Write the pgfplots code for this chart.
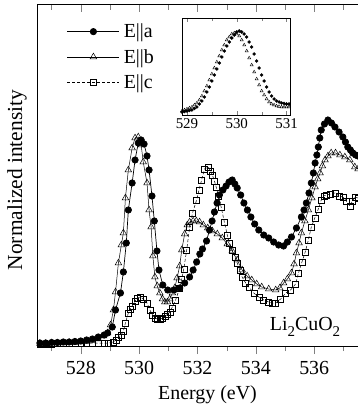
\documentclass[border=0pt]{standalone}
\usepackage{fontspec}
\setmainfont{Liberation Serif}
\usepackage{pgfplots}
\pgfplotsset{compat=1.18}
\newcommand{\sub}[1]{\raisebox{-6bp}{\fontsize{15}{16}\selectfont #1}}
\begin{document}
\begin{tikzpicture}
\begin{axis}[name=main, scale only axis, width=321bp, height=342bp,
  xmin=526.5, xmax=537.5, ymin=0, ymax=342,
  xtick={528,530,532,534,536}, minor xtick={527,529,531,533,535,537},
  ytick=\empty, xtick pos=bottom, tick align=outside,
  major tick length=8bp, minor tick length=5bp,
  /pgf/number format/assume math mode=true, /pgf/number format/1000 sep={},
  ticklabel style={font=\fontsize{20}{24}\selectfont},
  xticklabel style={yshift=-4bp},
  xlabel={Energy (eV)}, ylabel={Normalized intensity},
  xlabel style={font=\fontsize{20}{24}\selectfont, at={(axis description cs:0.531,-0.143)}, anchor=center},
  ylabel style={font=\fontsize{21.5}{24}\selectfont, at={(axis description cs:-0.0623,0.485)}, anchor=center},
  legend style={draw=none, fill=none, at={(axis description cs:0.093,0.948)}, anchor=north west,
    font=\fontsize{20}{22}\selectfont, row sep=6bp, inner sep=0pt,
    nodes={inner xsep=4bp}},
  legend cell align=left,
  legend image code/.code={\draw[mark repeat=2,mark phase=2] plot coordinates {(0bp,0bp) (26bp,0bp) (52bp,0bp)};},
]
\addplot[black, line width=0.7bp, mark=*, mark size=3.2bp, mark options={solid, fill=black}] coordinates {
(526.6,3)(526.8,3)(527.0,3.5)(527.2,3.5)(527.4,4)(527.6,4)(527.8,4.5)(528.0,5)(528.2,6)(528.4,7)(528.6,9)(528.8,11)
(528.92,13)(529.08,19)(529.19,36)(529.36,53)(529.46,74)(529.56,103)(529.63,136)(529.76,163)(529.86,186)(529.97,203)
(530.07,206)(530.17,202)(530.27,190)(530.34,176)(530.44,150)(530.52,125)(530.61,95)(530.68,76)(530.81,61)(530.98,56)
(531.19,56)(531.39,58)(531.56,63)(531.73,69)(531.85,76)(531.97,84)(532.08,92)(532.17,97)(532.31,105)(532.41,116)
(532.5,125)(532.58,134)(532.67,143)(532.75,151)(532.87,156)(532.98,160)(533.08,164)(533.19,166)(533.28,162)(533.36,158)
(533.48,151)(533.59,143)(533.71,136)(533.83,129)(533.96,122)(534.10,116)(534.27,111)(534.44,108)(534.61,104)(534.78,101)
(534.95,100)(535.08,104)(535.22,109)(535.39,118)(535.56,129)(535.65,136)(535.73,143)(535.82,153)(535.90,163)(535.97,173)
(536.03,183)(536.09,191)(536.14,199)(536.19,208)(536.24,216)(536.35,222)(536.47,226)(536.59,223)(536.71,219)(536.85,214)
(536.98,209)(537.07,204)(537.15,199)(537.24,196)(537.32,193)(537.42,191)(537.5,190)};
\addlegendentry{E||a}
\addplot[black, line width=0.5bp, mark=triangle, mark size=3.8bp, mark options={solid, fill=white}] coordinates {
(526.6,2.5)(526.8,2.5)(527.0,3)(527.2,3)(527.4,3)(527.6,3.5)(527.8,3.5)(528.0,4)(528.2,4.5)(528.4,5.5)(528.6,7)(528.78,10)
(528.92,13)(529.02,21)(529.12,36)(529.19,54)(529.29,83)(529.39,101)(529.46,113)(529.53,148)(529.63,176)(529.76,198)
(529.86,208)(529.97,209)(530.07,201)(530.14,184)(530.27,163)(530.34,136)(530.41,119)(530.47,90)(530.54,69)(530.62,60)
(530.71,53)(530.8,47)(530.88,44)(530.97,44)(531.05,47)(531.14,53)(531.22,58)(531.3,68)(531.39,80)(531.46,96)(531.56,112)
(531.65,121)(531.73,124)(531.85,125)(531.96,125)(532.07,124)(532.2,121)(532.35,118)(532.51,115)(532.68,112)(532.85,108)
(533.02,102)(533.19,95)(533.36,86)(533.53,76)(533.7,70)(533.86,66)(534.03,62)(534.2,59)(534.44,57)(534.68,56)(534.82,58)
(534.95,63)(535.08,67)(535.22,73)(535.31,82)(535.39,93)(535.48,103)(535.56,113)(535.68,125)(535.80,136)(535.92,148)
(536.03,159)(536.12,167)(536.20,173)(536.28,180)(536.37,186)(536.47,190)(536.58,193)(536.73,193)(536.88,191)(537.05,189)
(537.22,186)(537.39,179)(537.5,177)};
\addlegendentry{E||b}
\addplot[black, line width=0.5bp, densely dashed, mark=square, mark size=3bp, mark options={solid, fill=white}] coordinates {
(526.6,2)(526.8,2)(527.0,2)(527.2,2.5)(527.4,2.5)(527.6,2.5)(527.8,2.5)(528.0,3)(528.2,3)(528.4,3)(528.6,3)(528.8,3)
(528.95,3)(529.12,4)(529.2,6)(529.29,9)(529.38,11)(529.46,15)(529.53,23)(529.63,33)(529.7,37)(529.76,40)(529.86,45)
(529.95,48)(530.03,49)(530.15,47)(530.27,43)(530.37,36)(530.46,31)(530.54,28)(530.62,27)(530.71,27)(530.8,28)(530.9,30)
(530.98,32)(531.05,34)(531.12,38)(531.25,46)(531.39,58)(531.46,67)(531.53,77)(531.63,96)(531.73,119)(531.83,133)
(531.97,146)(532.05,156)(532.14,166)(532.24,177)(532.37,179)(532.45,175)(532.51,171)(532.58,165)(532.64,159)(532.72,150)
(532.81,139)(532.92,124)(533.02,111)(533.1,103)(533.19,96)(533.28,89)(533.36,83)(533.45,76)(533.53,69)(533.65,63)
(533.76,59)(533.93,53)(534.10,49)(534.27,46)(534.44,44)(534.56,43)(534.68,43)(534.85,47)(535.02,53)(535.19,56)(535.36,62)
(535.46,73)(535.58,84)(535.69,94)(535.80,106)(535.90,119)(536.02,128)(536.14,137)(536.24,146)(536.33,150)(536.41,151)
(536.56,152)(536.71,153)(536.85,150)(536.98,149)(537.1,145)(537.22,140)(537.31,145)(537.39,149)(537.5,148)};
\addlegendentry{E||c}
\node[anchor=base, font=\fontsize{20}{24}\selectfont] at (rel axis cs:0.835,0.045) {Li\sub{2}CuO\sub{2}};
\end{axis}
\begin{axis}[scale only axis, width=321bp, height=342bp, at={(main.south west)}, anchor=south west,
  xmin=526.5, xmax=537.5, ymin=0, ymax=342,
  xtick={528,530,532,534,536}, minor xtick={527,529,531,533,535,537},
  ytick=\empty, xtick pos=right, tick align=inside, xticklabels={},
  major tick length=8bp, minor tick length=6bp]
\end{axis}
\coordinate (insetpos) at ([xshift=145bp,yshift=231bp]main.south west);
\begin{axis}[scale only axis, width=108bp, height=97bp, at={(insetpos)}, anchor=south west,
  xmin=528.9, xmax=531.07, ymin=0, ymax=97, axis background/.style={fill=white},
  xtick={529,530,531}, minor xtick={529.5,530.5}, ytick=\empty, tick align=inside, xtick pos=both,
  major tick length=4bp, minor tick length=3bp, axis line style={line width=0.5bp},
  /pgf/number format/assume math mode=true, /pgf/number format/1000 sep={},
  ticklabel style={font=\fontsize{15}{18}\selectfont}]
\addplot[only marks, mark=*, mark size=1.5bp, black] coordinates {
(528.9,3)(528.95,3.5)(529.0,4)(529.05,4.5)(529.1,5)(529.15,6.5)(529.2,8)(529.25,11)(529.3,14)(529.35,18)(529.4,23)
(529.45,28)(529.5,34)(529.55,40)(529.6,46)(529.65,52)(529.7,58)(529.75,64)(529.8,69)(529.85,73)(529.9,77)(529.95,80)
(530.0,83)(530.05,84)(530.1,83)(530.15,81)(530.2,78)(530.25,73)(530.3,68)(530.35,61)(530.4,54)(530.45,47)(530.5,40)
(530.55,34)(530.6,28)(530.65,23)(530.7,19)(530.75,16)(530.8,14)(530.85,13)(530.9,12)(530.95,11.5)(531.0,11)(531.05,11)};
\addplot[only marks, mark=triangle, mark size=1.8bp, black, mark options={fill=white, line width=0.4bp}] coordinates {
(528.9,4)(528.95,5)(529.0,6)(529.05,7)(529.1,8)(529.15,10)(529.2,12)(529.25,15)(529.3,19)(529.35,24)(529.4,29)
(529.45,35)(529.5,41)(529.55,47)(529.6,53)(529.65,59)(529.7,65)(529.75,70)(529.8,75)(529.85,78)(529.9,81)(529.95,82)
(530.0,81)(530.05,79)(530.1,75)(530.15,70)(530.2,64)(530.25,57)(530.3,50)(530.35,43)(530.4,36)(530.45,30)(530.5,24)
(530.55,20)(530.6,16)(530.65,13)(530.7,11)(530.75,10)(530.8,9)(530.85,8.5)(530.9,8)(530.95,8)(531.0,8)(531.05,8)};
\end{axis}
\pgfresetboundingbox
\path ([xshift=-37bp,yshift=-70bp]main.south west) rectangle ([yshift=4bp]main.north east);
\end{tikzpicture}
\end{document}
